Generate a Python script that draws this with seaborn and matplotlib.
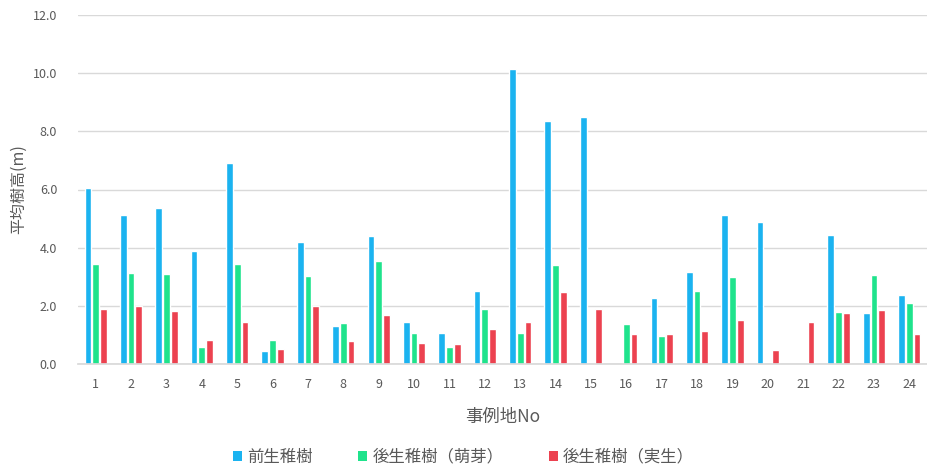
import numpy as np
import pandas as pd
import matplotlib
matplotlib.use("Agg")
import matplotlib.pyplot as plt
import seaborn as sns
from matplotlib.patches import Patch

# 事例地ごとの平均樹高 (m)
sites = [str(i) for i in range(1, 25)]
zensei = [6.05, 5.13, 5.37, 3.90, 6.91, 0.43, 4.19, 1.32, 4.41, 1.45, 1.07, 2.52,
          10.15, 8.35, 8.51, np.nan, 2.27, 3.15, 5.13, 4.88, np.nan, 4.44, 1.75, 2.38]
kousei_bouga = [3.43, 3.12, 3.09, 0.60, 3.44, 0.83, 3.01, 1.41, 3.55, 1.07, 0.60, 1.90,
                1.07, 3.39, np.nan, 1.37, 0.97, 2.52, 2.98, np.nan, np.nan, 1.79, 3.07, 2.09]
kousei_misho = [1.89, 2.00, 1.81, 0.81, 1.43, 0.51, 2.00, 0.80, 1.67, 0.72, 0.69, 1.20,
                1.44, 2.47, 1.88, 1.03, 1.03, 1.12, 1.52, 0.47, 1.44, 1.75, 1.84, 1.03]
series_names = ["前生稚樹", "後生稚樹（萌芽）", "後生稚樹（実生）"]
colors = ["#1BB3F0", "#1FE38C", "#EC4250"]

df = pd.DataFrame({
    "site": sites * 3,
    "series": np.repeat(series_names, len(sites)),
    "height": zensei + kousei_bouga + kousei_misho,
})

sns.set_theme(style="white")
plt.rcParams["font.family"] = ["Noto Sans CJK JP", "DejaVu Sans"]

fig = plt.figure(figsize=(9.27, 4.70), dpi=100)
ax = fig.add_axes([78 / 927, 1 - 364 / 470, (927 - 78) / 927, (364 - 15) / 470])

sns.barplot(data=df, x="site", y="height", hue="series", order=sites,
            hue_order=series_names, palette=colors, width=0.66, gap=0.14,
            saturation=1, legend=False, ax=ax)

text_color = "#595959"
ax.set_ylim(0, 12)
ax.set_yticks(np.arange(0, 12.1, 2))
ax.set_yticklabels([f"{v:.1f}" for v in np.arange(0, 12.1, 2)])
ax.yaxis.grid(True, color="#D9D9D9", linewidth=1)
ax.set_axisbelow(True)
for side in ["top", "right", "left"]:
    ax.spines[side].set_visible(False)
ax.spines["bottom"].set_color("#D9D9D9")
ax.tick_params(axis="both", length=0, labelsize=9, labelcolor=text_color)
ax.tick_params(axis="y", pad=15)
ax.tick_params(axis="x", pad=10)

ax.set_ylabel("平均樹高(m)", fontsize=11.5, color=text_color, labelpad=4)
ax.set_xlabel("事例地No", fontsize=12.5, color=text_color, labelpad=12)

handles = [Patch(facecolor=c, edgecolor="none") for c in colors]
fig.legend(handles, series_names, loc="center", bbox_to_anchor=(0.5, 1 - 457 / 470),
           ncol=3, frameon=False, fontsize=11.8, labelcolor=text_color,
           handlelength=0.55, handleheight=0.55, handletextpad=0.3, columnspacing=2.8)

fig.savefig("out.png", dpi=100)
